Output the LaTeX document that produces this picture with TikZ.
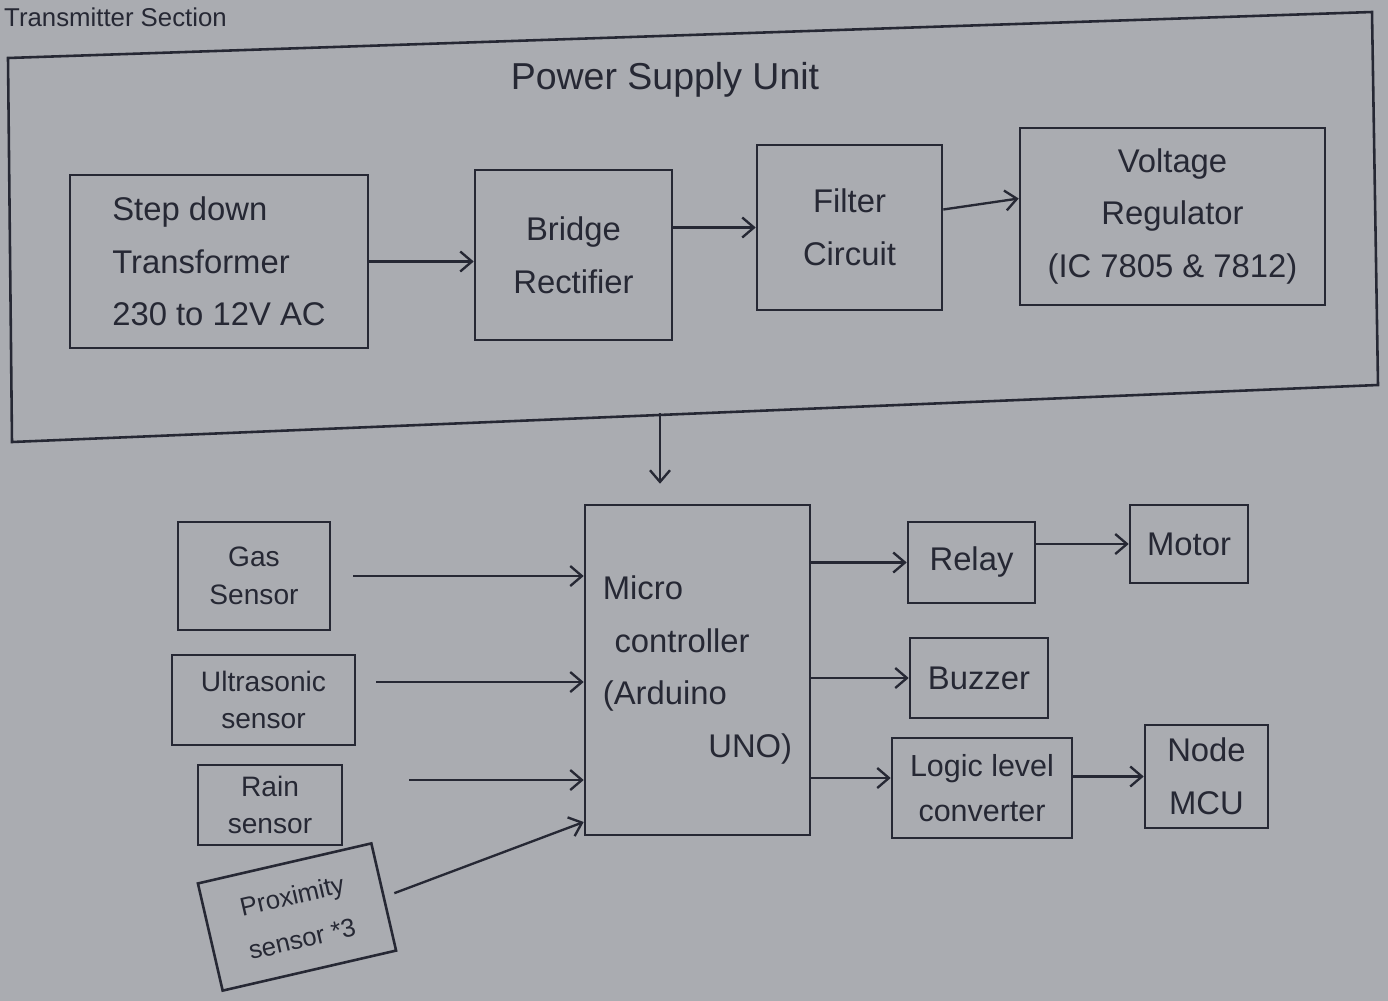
\documentclass[tikz,border=0pt]{standalone}
\usepackage{fontspec}
\setmainfont{Liberation Sans}
\usetikzlibrary{arrows.meta,calc}
\definecolor{paper}{RGB}{170,172,177}
\definecolor{ink}{RGB}{38,40,52}
\def\pu{0.03cm}
\begin{document}
\begin{tikzpicture}[x=0.03cm,y=-0.03cm,
  blk/.style={draw=ink, line width=2.2pt, text=ink, inner sep=0pt, align=center,
    font=\fontsize{28}{45}\selectfont},
  sen/.style={blk, font=\fontsize{24}{32}\selectfont},
  arr/.style={draw=ink, line width=2pt, -{Straight Barb[length=3.5mm,width=6mm,line width=2pt]}},
  lbl/.style={text=ink, inner sep=0pt}]
\useasboundingbox (0,0) rectangle (1388,1001);
\clip (0,0) rectangle (1388,1001);
\fill[paper] (0,0) rectangle (1388,1001);

% top-left caption
\node[lbl, font=\fontsize{22}{26}\selectfont, anchor=base west] (cap) at (4,26) {Transmitter Section};

% power supply unit outline
\draw[ink, line width=2.2pt] (8,58) -- (1372,12) -- (1378,385) -- (12,442) -- cycle;
\node[lbl, font=\fontsize{32}{38}\selectfont] (psu) at (665,80) {Power Supply Unit};
\coordinate (psub) at (660,413);

% power chain
\node[blk, align=left, minimum width=298*\pu, minimum height=173*\pu] (tr) at (219,261.5)
  {Step down\\Transformer\\230 to 12V AC};
\node[blk, minimum width=197*\pu, minimum height=170*\pu] (br) at (573.5,255)
  {Bridge\\Rectifier};
\node[blk, minimum width=185*\pu, minimum height=165*\pu] (fc) at (849.5,227.5)
  {Filter\\Circuit};
\node[blk, minimum width=305*\pu, minimum height=177*\pu] (vr) at (1172.5,216.5)
  {Voltage\\Regulator\\(IC 7805 \& 7812)};

\draw[arr] (tr.east) -- (tr.east -| br.west);
\draw[arr] (br.east |- fc.west) -- (fc.west);
\draw[arr] ([yshift=18*\pu]fc.east) -- ([yshift=18*\pu]vr.west);

% microcontroller
\node[blk, align=left, minimum width=225*\pu, minimum height=330*\pu] (mc) at (697.5,670)
  {Micro\\\hspace*{10pt}controller\\(Arduino\\\hspace*{90pt}UNO)};
\draw[arr, shorten >=20*\pu] (psub) -- (psub |- mc.north);

% sensors
\node[sen, minimum width=152*\pu, minimum height=108*\pu] (gas) at (254,576) {Gas\\Sensor};
\node[sen, minimum width=183*\pu, minimum height=90*\pu] (us) at (263.5,700) {Ultrasonic\\sensor};
\node[sen, minimum width=144*\pu, minimum height=80*\pu] (rain) at (270,805) {Rain\\sensor};
\node[sen, font=\fontsize{22}{38}\selectfont, rotate=13, minimum width=178*\pu, minimum height=110*\pu] (px) at (297,917) {Proximity\\sensor *3};

\draw[arr, shorten <=22*\pu] (gas.east) -- (gas.east -| mc.west);
\draw[arr, shorten <=20*\pu] ([yshift=18*\pu]us.east) -- ([yshift=18*\pu]us.east -| mc.west);
\draw[arr, shorten <=66*\pu] ([yshift=25*\pu]rain.east) -- ([yshift=25*\pu]rain.east -| mc.west);
\draw[arr, shorten <=10*\pu] (px.east) -- ([yshift=-152*\pu]mc.west);

% outputs
\node[blk, minimum width=127*\pu, minimum height=81*\pu] (relay) at (971.5,562.5) {Relay};
\node[blk, minimum width=118*\pu, minimum height=78*\pu] (motor) at (1189,544) {Motor};
\node[blk, minimum width=138*\pu, minimum height=80*\pu] (buz) at (979,678) {Buzzer};
\node[blk, font=\fontsize{26}{38}\selectfont, minimum width=180*\pu, minimum height=100*\pu] (llc) at (982,788) {Logic level\\converter};
\node[blk, minimum width=123*\pu, minimum height=103*\pu] (nmcu) at (1206.5,776.5) {Node\\MCU};

\draw[arr] (mc.east |- relay.west) -- (relay.west);
\draw[arr] (relay.east |- motor.west) -- (motor.west);
\draw[arr] (mc.east |- buz.west) -- (buz.west);
\draw[arr] ([yshift=10*\pu]mc.east |- llc.west) -- ([yshift=10*\pu]llc.west);
\draw[arr] (llc.east |- nmcu.west) -- (nmcu.west);
\end{tikzpicture}
\end{document}
